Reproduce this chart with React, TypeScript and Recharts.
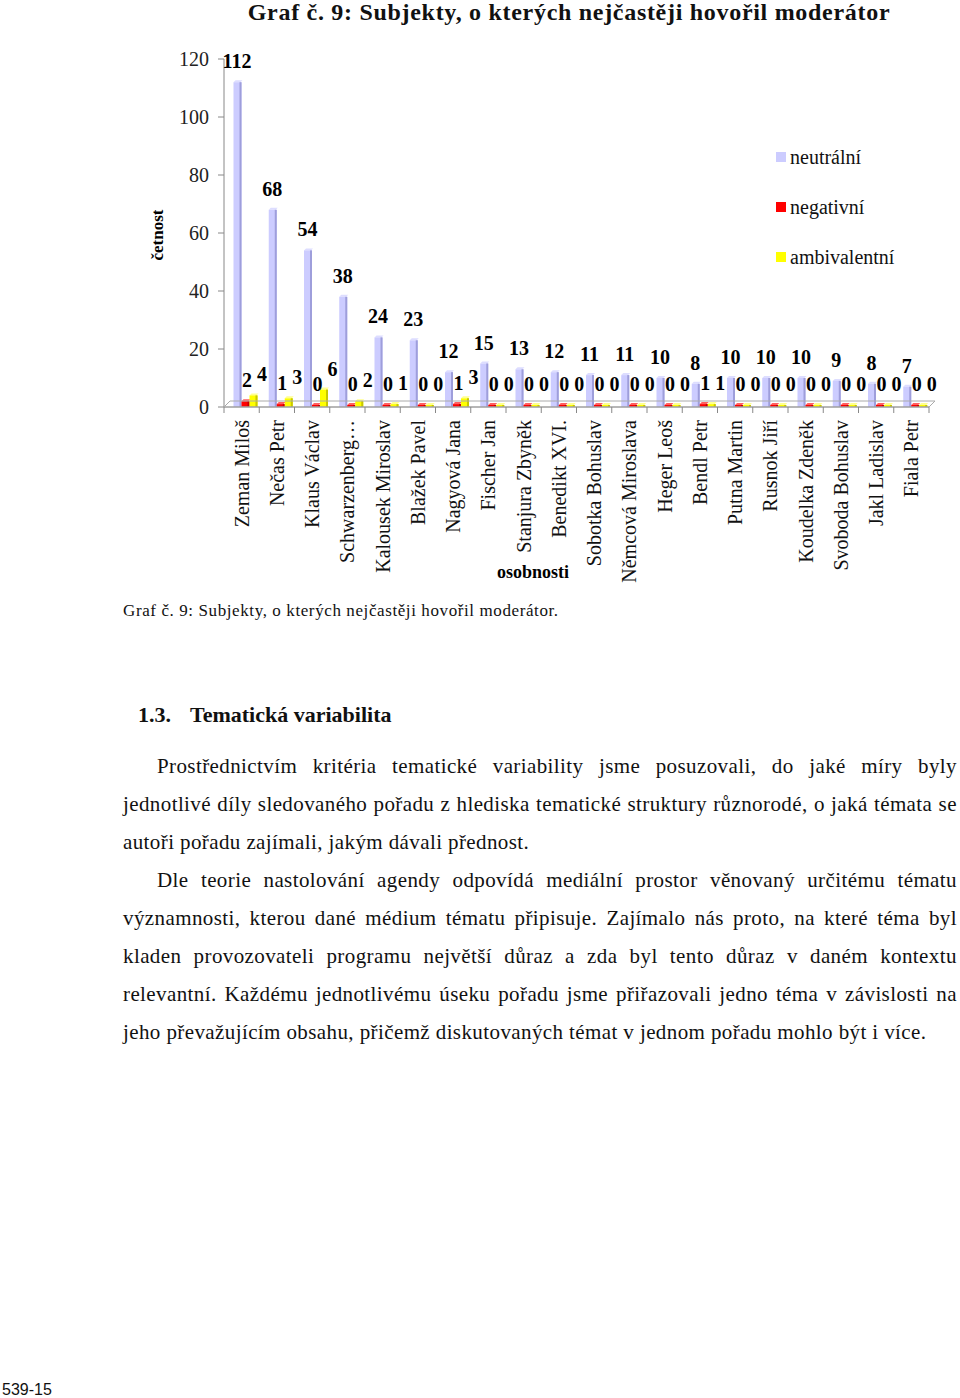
import React from 'react';
import { BarChart, Bar, XAxis, YAxis, Legend, LabelList } from 'recharts';

const categories = [
  'Zeman Miloš', 'Nečas Petr', 'Klaus Václav', 'Schwarzenberg…', 'Kalousek Miroslav',
  'Blažek Pavel', 'Nagyová Jana', 'Fischer Jan', 'Stanjura Zbyněk', 'Benedikt XVI.',
  'Sobotka Bohuslav', 'Němcová Miroslava', 'Heger Leoš', 'Bendl Petr', 'Putna Martin',
  'Rusnok Jiří', 'Koudelka Zdeněk', 'Svoboda Bohuslav', 'Jakl Ladislav', 'Fiala Petr',
];
const neutralni = [112, 68, 54, 38, 24, 23, 12, 15, 13, 12, 11, 11, 10, 8, 10, 10, 10, 9, 8, 7];
const negativni = [2, 1, 0, 0, 0, 0, 1, 0, 0, 0, 0, 0, 0, 1, 0, 0, 0, 0, 0, 0];
const ambivalentni = [4, 3, 6, 2, 1, 0, 3, 0, 0, 0, 0, 0, 0, 1, 0, 0, 0, 0, 0, 0];
const yTicks = [0, 20, 40, 60, 80, 100, 120];
const seriesNames = ['neutrální', 'negativní', 'ambivalentní'];

const data = categories.map((name, i) => ({
  name,
  neutralni: neutralni[i],
  negativni: negativni[i],
  ambivalentni: ambivalentni[i],
}));

const SERIF = '"Liberation Serif", "Times New Roman", serif';
const CHART_W = 960;
const CHART_H = 600;
const MARGIN = { top: 59, right: 31, bottom: 23, left: 164 };
const Y_W = 60;
const X_H = 170;
const PLOT_W = CHART_W - MARGIN.left - MARGIN.right - Y_W;
const BAND = PLOT_W / categories.length;
const SHIFT = 3.5;
const DEPTH = 6;

const Bar3D = (props: any) => {
  const { x, y, width, height, fill, side, top } = props;
  if (height <= 0) return null;
  const bx = x + SHIFT;
  return (
    <g>
      <polygon
        points={`${bx},${y} ${bx + 2},${y - 2} ${bx + width + 1},${y - 2} ${bx + width - 1},${y}`}
        fill={top}
      />
      <rect x={bx} y={y} width={width} height={height} fill={fill} />
      <rect x={bx + width - 2} y={y} width={2} height={height} fill={side} />
    </g>
  );
};

const XTick = (props: any) => {
  const { x, y, payload, index } = props;
  const ay = y - 8;
  const left = x - BAND / 2;
  return (
    <g>
      {index === 0 && (
        <polygon
          points={`${left},${ay} ${left + PLOT_W},${ay} ${left + PLOT_W + DEPTH},${ay - DEPTH} ${left + DEPTH},${ay - DEPTH}`}
          fill="none"
          stroke="#aaa"
          strokeWidth={1}
        />
      )}
      <line x1={left} y1={ay} x2={left} y2={ay + 6} stroke="#888" />
      {index === categories.length - 1 && (
        <line x1={x + BAND / 2} y1={ay} x2={x + BAND / 2} y2={ay + 6} stroke="#888" />
      )}
      <text
        x={x}
        y={y + 5}
        transform={`rotate(-90, ${x}, ${y + 5})`}
        textAnchor="end"
        dominantBaseline="central"
        fontFamily={SERIF}
        fontSize={20}
        fill="#111"
      >
        {payload.value}
      </text>
    </g>
  );
};

const makeValueLabel = (dx: number, dy: number) => (p: any) => {
  const { x, y, width, value } = p;
  return (
    <text
      x={x + width / 2 + dx}
      y={y - dy}
      textAnchor="middle"
      fontFamily={SERIF}
      fontWeight="bold"
      fontSize={20}
      fill="#000"
    >
      {value}
    </text>
  );
};

const renderLegend = (props: any) => {
  const payload = [...(props.payload || [])].sort(
    (a: any, b: any) => seriesNames.indexOf(a.value) - seriesNames.indexOf(b.value)
  );
  return (
    <div>
      {payload.map((item: any) => (
        <div
          key={item.value}
          style={{ height: 50, display: 'flex', alignItems: 'center', fontFamily: SERIF, fontSize: 20, color: '#111' }}
        >
          <span style={{ display: 'inline-block', width: 10, height: 10, background: item.color, marginRight: 4 }} />
          <span>{item.value}</span>
        </div>
      ))}
    </div>
  );
};

const YLabel = (p: any) => {
  const vb = p.viewBox;
  const cx = vb.x - 7;
  const cy = vb.y + vb.height / 2 + 2;
  return (
    <text
      x={cx}
      y={cy}
      transform={`rotate(-90, ${cx}, ${cy})`}
      textAnchor="middle"
      dominantBaseline="central"
      fontFamily={SERIF}
      fontWeight="bold"
      fontSize={17}
      fill="#000"
    >
      četnost
    </text>
  );
};

const XLabel = (p: any) => {
  const vb = p.viewBox;
  return (
    <text
      x={vb.x + 309}
      y={vb.y + 171}
      textAnchor="middle"
      fontFamily={SERIF}
      fontWeight="bold"
      fontSize={18}
      fill="#000"
    >
      osobnosti
    </text>
  );
};

const p1 = [
  'Prostřednictvím kritéria tematické variability jsme posuzovali, do jaké míry byly',
  'jednotlivé díly sledovaného pořadu z hlediska tematické struktury různorodé, o jaká témata se',
  'autoři pořadu zajímali, jakým dávali přednost.',
];
const p2 = [
  'Dle teorie nastolování agendy odpovídá mediální prostor věnovaný určitému tématu',
  'významnosti, kterou dané médium tématu připisuje. Zajímalo nás proto, na které téma byl',
  'kladen provozovateli programu největší důraz a zda byl tento důraz v daném kontextu',
  'relevantní. Každému jednotlivému úseku pořadu jsme přiřazovali jedno téma v závislosti na',
  'jeho převažujícím obsahu, přičemž diskutovaných témat v jednom pořadu mohlo být i více.',
];

const renderPara = (lines: string[], key: string) =>
  lines.map((t, i) => {
    const last = i === lines.length - 1;
    const base: React.CSSProperties = {
      height: 38,
      lineHeight: '38px',
      paddingLeft: i === 0 ? 34 : 0,
      whiteSpace: 'nowrap',
    };
    if (last) {
      return (
        <div key={key + i} style={base}>
          {t}
        </div>
      );
    }
    return (
      <div key={key + i} style={{ ...base, display: 'flex', justifyContent: 'space-between' }}>
        {t.split(' ').map((w, j) => (
          <span key={j}>{w}</span>
        ))}
      </div>
    );
  });

export default function App() {
  return (
    <div style={{ position: 'absolute', left: 0, top: 0, width: 960, height: 1398, background: '#fff', fontFamily: SERIF }}>
      <div
        style={{
          position: 'absolute',
          left: 0,
          width: 1138,
          top: 0,
          textAlign: 'center',
          fontSize: 24,
          letterSpacing: 0.7,
          lineHeight: '24px',
          fontWeight: 'bold',
          whiteSpace: 'nowrap',
          color: '#111',
        }}
      >
        Graf č. 9: Subjekty, o kterých nejčastěji hovořil moderátor
      </div>
      <div style={{ position: 'absolute', left: 0, top: 0 }}>
        <BarChart width={CHART_W} height={CHART_H} data={data} margin={MARGIN} barGap={0} barSize={8}>
          <XAxis
            dataKey="name"
            interval={0}
            height={X_H}
            tick={<XTick />}
            tickLine={false}
            axisLine={{ stroke: '#888' }}
            label={{ value: 'osobnosti', content: XLabel }}
          />
          <YAxis
            width={Y_W}
            domain={[0, 120]}
            ticks={yTicks}
            interval={0}
            axisLine={{ stroke: '#888' }}
            tickLine={{ stroke: '#888' }}
            tickSize={6}
            tickMargin={9}
            tick={{ fontFamily: SERIF, fontSize: 20, fill: '#222' }}
            label={{ value: 'četnost', content: YLabel }}
          />
          <Legend
            layout="vertical"
            verticalAlign="middle"
            align="center"
            content={renderLegend}
            wrapperStyle={{ position: 'absolute', left: 776, top: 132, width: 170 }}
          />
          <Bar
            dataKey="neutralni"
            name="neutrální"
            fill="#CCCCFF"
            isAnimationActive={false}
            shape={(p: any) => <Bar3D {...p} side="#9E9EDB" top="#DDDDFF" />}
          >
            <LabelList dataKey="neutralni" content={makeValueLabel(3, 14)} />
          </Bar>
          <Bar
            dataKey="negativni"
            name="negativní"
            fill="#FF0000"
            minPointSize={2}
            isAnimationActive={false}
            shape={(p: any) => <Bar3D {...p} side="#C00000" top="#FF6060" />}
          >
            <LabelList dataKey="negativni" content={makeValueLabel(5, 14)} />
          </Bar>
          <Bar
            dataKey="ambivalentni"
            name="ambivalentní"
            fill="#FFFF00"
            minPointSize={2}
            isAnimationActive={false}
            shape={(p: any) => <Bar3D {...p} side="#C8C800" top="#FFFF90" />}
          >
            <LabelList dataKey="ambivalentni" content={makeValueLabel(12, 14)} />
          </Bar>
        </BarChart>
      </div>
      <div style={{ position: 'absolute', left: 123, top: 601, fontSize: 17, letterSpacing: 0.6, lineHeight: '20px', color: '#111', whiteSpace: 'nowrap' }}>
        Graf č. 9: Subjekty, o kterých nejčastěji hovořil moderátor.
      </div>
      <div style={{ position: 'absolute', left: 138, top: 702, fontSize: 22, lineHeight: '26px', fontWeight: 'bold', color: '#111', whiteSpace: 'nowrap' }}>
        1.3.
      </div>
      <div style={{ position: 'absolute', left: 190, top: 702, fontSize: 22, lineHeight: '26px', fontWeight: 'bold', color: '#111', whiteSpace: 'nowrap' }}>
        Tematická variabilita
      </div>
      <div style={{ position: 'absolute', left: 123, top: 747, width: 834, fontSize: 21, letterSpacing: 0.4, color: '#111' }}>
        {renderPara(p1, 'a')}
        {renderPara(p2, 'b')}
      </div>
      <div style={{ position: 'absolute', left: 2, top: 1381, fontFamily: '"Liberation Sans", Arial, sans-serif', fontSize: 16, lineHeight: '18px', color: '#111' }}>
        539-15
      </div>
    </div>
  );
}
